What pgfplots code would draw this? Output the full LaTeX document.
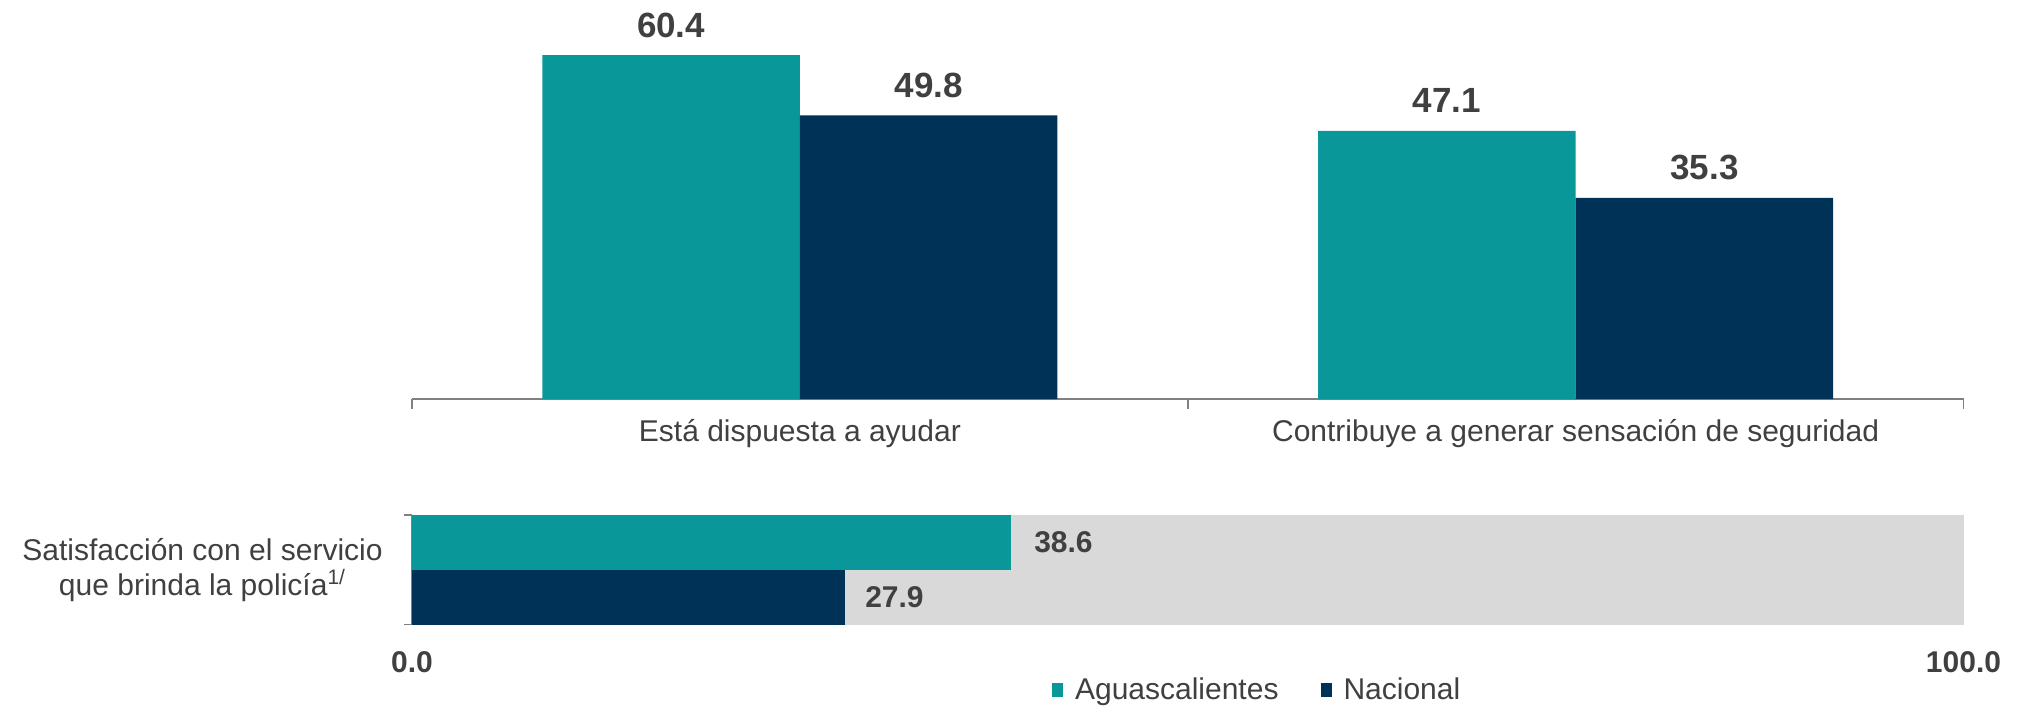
\documentclass[border=0pt]{standalone}
\usepackage{pgfplots}
\pgfplotsset{compat=1.18}
\usepackage{fontspec}
\setmainfont{Liberation Sans}
\definecolor{teal1}{RGB}{9,151,153}
\definecolor{navy1}{RGB}{0,49,87}
\definecolor{txt}{RGB}{64,64,64}
\definecolor{lgray}{RGB}{217,217,217}
\definecolor{axgray}{RGB}{128,128,128}
\pgfplotsset{sqlegend/.style={legend image code/.code={\fill[##1] (0pt,-3.5pt) rectangle (5.5pt,3.5pt);}}}
\begin{document}
\begin{tikzpicture}[x=1pt,y=1pt]
\useasboundingbox (0,0) rectangle (1009.5,-354);
\begin{axis}[
  at={(206pt,-199.5pt)}, anchor=south west,
  scale only axis, width=775.75pt, height=199.35pt,
  ybar=0pt, bar width=128.8pt,
  xmin=-0.5, xmax=1.5, ymin=0, ymax=70,
  axis x line*=bottom, axis y line=none,
  x axis line style={axgray, line width=0.8pt},
  xtick={0,1}, xticklabels={Está dispuesta a ayudar, Contribuye a generar sensación de seguridad},
  major tick length=0pt,
  xticklabel style={anchor=base, yshift=-21.3pt, font=\fontsize{15}{18}\selectfont, text=txt, inner sep=0pt},
  extra x ticks={-0.5,0.5,1.5}, extra x tick labels={},
  extra x tick style={tick align=outside, major tick length=5pt, tick style={axgray, line width=0.8pt}},
  nodes near coords={\pgfmathprintnumber{\pgfplotspointmeta}},
  every node near coord/.append style={font=\fontsize{17.5}{20}\selectfont\bfseries, text=txt, anchor=base, yshift=9pt, inner sep=0pt},
  /pgf/number format/.cd, fixed, fixed zerofill, precision=1, assume math mode=true, /pgfplots/.cd,
  clip=false,
]
\addplot[fill=teal1, draw=none] coordinates {(0,60.4) (1,47.1)};
\addplot[fill=navy1, draw=none] coordinates {(0,49.8) (1,35.3)};
\end{axis}
\begin{axis}[
  at={(206pt,-312.25pt)}, anchor=south west,
  scale only axis, width=775.75pt, height=54.75pt,
  xbar=0pt,
  xmin=0, xmax=100, ymin=-0.5, ymax=0.5,
  axis x line*=bottom, axis y line*=left,
  x axis line style={draw=none},
  y axis line style={axgray, line width=0.8pt},
  xtick={0,100}, xticklabels={0.0,100.0},
  major tick length=0pt,
  xticklabel style={anchor=base, yshift=-23.75pt, font=\fontsize{15}{18}\selectfont\bfseries, text=txt, inner sep=0pt},
  ytick={0}, yticklabels={{Satisfacción con el servicio\\que brinda la policía\textsuperscript{1/}}},
  yticklabel style={align=center, anchor=east, xshift=-14.5pt, inner sep=0pt, font=\fontsize{15}{17.5}\selectfont, text=txt},
  extra y ticks={-0.5,0.5}, extra y tick labels={},
  extra y tick style={tick align=outside, major tick length=4pt, tick style={axgray, line width=0.8pt}},
  point meta=x,
  every node near coord/.append style={font=\fontsize{15}{18}\selectfont\bfseries, text=txt, anchor=west, inner sep=0pt},
  /pgf/number format/.cd, fixed, fixed zerofill, precision=1, assume math mode=true, /pgfplots/.cd,
  clip=false,
  legend style={at={(rel axis cs:0.4123,-0.598)}, anchor=west, draw=none, fill=none, inner sep=0pt,
    legend columns=2, font=\fontsize{15}{18}\selectfont, text=txt,
    /tikz/every odd column/.append style={column sep=4pt},
    /tikz/every even column/.append style={column sep=19pt}},
]
\addplot[fill=lgray, draw=none, bar width=54.75pt, bar shift=0pt, forget plot] coordinates {(100,0)};
\addplot[fill=teal1, draw=none, bar width=27.375pt, bar shift=13.6875pt, sqlegend,
  nodes near coords={\pgfmathprintnumber{\pgfplotspointmeta}},
  every node near coord/.append style={xshift=11.5pt}] coordinates {(38.6,0)};
\addlegendentry{Aguascalientes}
\addplot[fill=navy1, draw=none, bar width=27.375pt, bar shift=-13.6875pt, sqlegend,
  nodes near coords={\pgfmathprintnumber{\pgfplotspointmeta}},
  every node near coord/.append style={xshift=10pt}] coordinates {(27.9,0)};
\addlegendentry{Nacional}
\end{axis}
\end{tikzpicture}
\end{document}
